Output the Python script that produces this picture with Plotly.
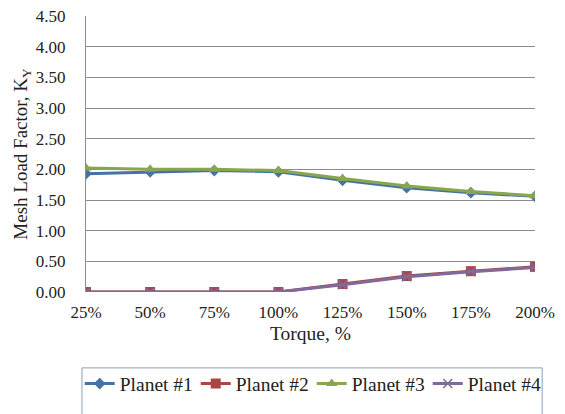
import plotly.graph_objects as go

torque = ["25%", "50%", "75%", "100%", "125%", "150%", "175%", "200%"]
planet1 = [1.93, 1.96, 1.98, 1.96, 1.82, 1.70, 1.62, 1.56]
planet2 = [0.00, 0.00, 0.00, 0.00, 0.13, 0.26, 0.34, 0.41]
planet3 = [2.02, 2.00, 2.00, 1.98, 1.85, 1.73, 1.64, 1.57]
planet4 = [0.00, 0.00, 0.00, 0.00, 0.12, 0.25, 0.33, 0.40]
y_ticks = [0.0, 0.5, 1.0, 1.5, 2.0, 2.5, 3.0, 3.5, 4.0, 4.5]

xpos = list(range(len(torque)))
font_family = "Liberation Serif"

series = [
    ("Planet #1", planet1, "#4572A7", dict(symbol="diamond", size=9)),
    ("Planet #2", planet2, "#AA4643", dict(symbol="square", size=10)),
    ("Planet #3", planet3, "#89A54E", dict(symbol="triangle-up", size=10)),
    ("Planet #4", planet4, "#80699B", dict(symbol="x-thin-open", size=9,
                                            line=dict(width=1.5, color="#80699B"))),
]

fig = go.Figure()
for name, vals, color, marker in series:
    fig.add_trace(go.Scatter(
        x=xpos, y=vals, name=name, mode="lines+markers",
        line=dict(color=color, width=3),
        marker=dict(color=color, **marker),
    ))

fig.update_layout(
    width=565, height=414,
    margin=dict(l=86, r=30, t=16, b=122, autoexpand=False),
    paper_bgcolor="white", plot_bgcolor="white",
    font=dict(family=font_family, size=17, color="#222"),
    xaxis=dict(
        tickvals=xpos, ticktext=torque, range=[0, len(torque) - 1],
        showgrid=False, zeroline=False, showline=False,
        ticks="", ticklabelstandoff=8,
        title=dict(text="Torque, %", standoff=5, font=dict(size=19.5)),
    ),
    yaxis=dict(
        range=[0, 4.5], tickvals=y_ticks,
        ticktext=[f"{v:.2f}" for v in y_ticks],
        showgrid=True, gridcolor="#8c8c8c", gridwidth=1,
        zeroline=False, showline=True, linecolor="#8c8c8c",
        ticks="", ticklabelstandoff=16,
        title=dict(text="Mesh Load Factor, K<sub>Y</sub>", standoff=3,
                   font=dict(size=19)),
    ),
    legend=dict(
        orientation="h",
        x=-0.014, xanchor="left",
        y=-0.333, yanchor="middle",
        font=dict(size=19.5), bgcolor="rgba(0,0,0,0)",
        itemwidth=30, entrywidth=71, entrywidthmode="pixels",
        tracegroupgap=0,
    ),
    shapes=[dict(
        type="rect", xref="paper", yref="paper",
        x0=-0.009, x1=1.016, y0=-0.47, y1=-0.275,
        line=dict(color="#8aa0b8", width=1),
    )],
)

fig.write_html("out.html")
